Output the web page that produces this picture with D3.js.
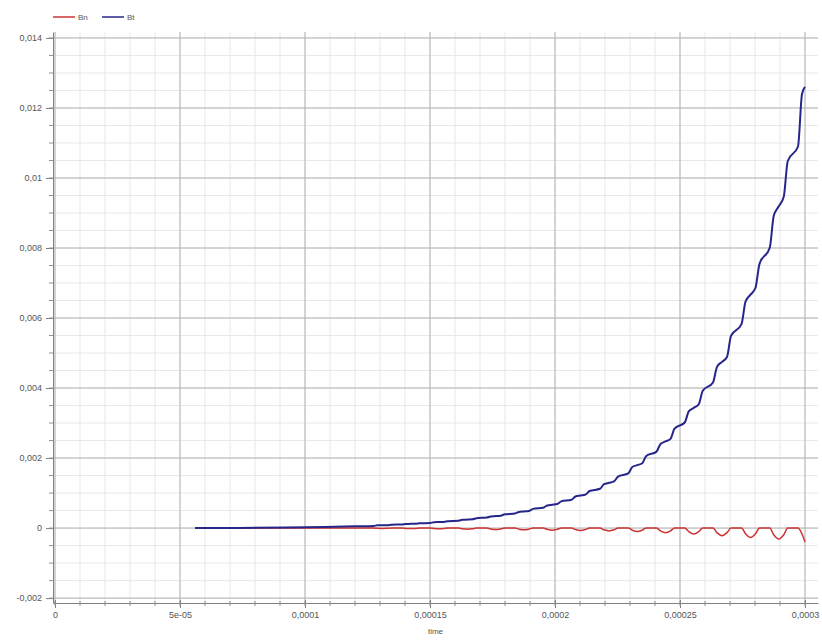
<!DOCTYPE html>
<html>
<head>
<meta charset="utf-8">
<script src="https://cdn.jsdelivr.net/npm/d3@7"></script>
<style>
    body { margin: 0; background: #ffffff; }
    text { font-family: "Liberation Sans", "DejaVu Sans", sans-serif; }
</style>
</head>
<body>
<div id="chart"></div>
<script>
// series (time in seconds)
var seriesNames = ["Bn", "Bt"];

var time = [
    0, 56e-6, 74e-6, 92e-6, 108e-6, 120e-6,
    127.4e-6, 129.0e-6, 131.0e-6, 133.0e-6, 134.6e-6,
    138.7e-6, 140.3e-6, 142.3e-6, 144.3e-6, 145.9e-6,
    150.0e-6, 151.6e-6, 153.6e-6, 155.6e-6, 157.2e-6,
    161.4e-6, 163.0e-6, 165.0e-6, 167.0e-6, 168.6e-6,
    172.7e-6, 174.3e-6, 176.3e-6, 178.3e-6, 179.9e-6,
    184.0e-6, 185.6e-6, 187.6e-6, 189.6e-6, 191.2e-6,
    195.3e-6, 196.9e-6, 198.9e-6, 200.9e-6, 202.5e-6,
    206.6e-6, 208.2e-6, 210.2e-6, 212.2e-6, 213.8e-6,
    218.0e-6, 219.6e-6, 221.6e-6, 223.6e-6, 225.2e-6,
    229.3e-6, 230.9e-6, 232.9e-6, 234.9e-6, 236.5e-6,
    240.6e-6, 242.2e-6, 244.2e-6, 246.2e-6, 247.8e-6,
    251.9e-6, 253.5e-6, 255.5e-6, 257.5e-6, 259.1e-6,
    263.2e-6, 264.8e-6, 266.8e-6, 268.8e-6, 270.4e-6,
    274.6e-6, 276.2e-6, 278.2e-6, 280.2e-6, 281.8e-6,
    285.9e-6, 287.5e-6, 289.5e-6, 291.5e-6, 293.1e-6,
    297.2e-6, 298.8e-6, 300.0e-6
];

var bn = [
    0, 0, 0, 0, 0, 0,
    0, -0.000006, -0.00001, -0.000006, 0,
    0, -0.000009, -0.000015, -0.000009, 0,
    0, -0.000012, -0.00002, -0.000012, 0,
    0, -0.000018, -0.00003, -0.000018, 0,
    0, -0.000024, -0.00004, -0.000024, 0,
    0, -0.00003, -0.00005, -0.00003, 0,
    0, -0.000036, -0.00006, -0.000036, 0,
    0, -0.000042, -0.00007, -0.000042, 0,
    0, -0.00005, -0.00008, -0.00005, 0,
    0, -0.00006, -0.0001, -0.00006, 0,
    0, -0.00008, -0.00013, -0.00008, 0,
    0, -0.0001, -0.00017, -0.0001, 0,
    0, -0.00013, -0.00022, -0.00013, 0,
    0, -0.00016, -0.00027, -0.00016, 0,
    0, -0.00019, -0.00031, -0.00019, 0,
    0, -0.00017, -0.0004
];

var bt = [
    0, 0, 0.000005, 0.000015, 0.00003, 0.00005,
    0.000062, 0.000078, 0.000081, 0.000083, 0.000098,
    0.000104, 0.000118, 0.000121, 0.000125, 0.000137,
    0.000146, 0.000167, 0.000172, 0.000177, 0.000196,
    0.000208, 0.000235, 0.000242, 0.00025, 0.000284,
    0.000302, 0.000333, 0.000343, 0.000354, 0.000392,
    0.000416, 0.000461, 0.000475, 0.000489, 0.000549,
    0.000582, 0.000647, 0.000667, 0.000686, 0.000764,
    0.000811, 0.000902, 0.000929, 0.000957, 0.001058,
    0.001123, 0.001254, 0.001293, 0.001331, 0.00147,
    0.00156, 0.001744, 0.001798, 0.001851, 0.002058,
    0.002184, 0.002401, 0.002475, 0.002548, 0.002842,
    0.003016, 0.003332, 0.003434, 0.003536, 0.00392,
    0.00416, 0.004606, 0.004747, 0.004888, 0.005488,
    0.005824, 0.006468, 0.006666, 0.006864, 0.007546,
    0.008008, 0.008918, 0.009191, 0.009464, 0.010486,
    0.0109, 0.0124, 0.0126
];

// the first point (t = 0) is hidden under the zero grid line in the picture
var firstVisible = 1;

var xTicks = [0, 5e-5, 1e-4, 1.5e-4, 2e-4, 2.5e-4, 3e-4];
var xTickLabels = ["0", "5e-05", "0,0001", "0,00015", "0,0002", "0,00025", "0,0003"];
var yTicks = [-0.002, 0, 0.002, 0.004, 0.006, 0.008, 0.01, 0.012, 0.014];
var yTickLabels = ["-0,002", "0", "0,002", "0,004", "0,006", "0,008", "0,01", "0,012", "0,014"];
var xLabel = "time";

var w = 822, h = 640;
var margin = { left: 53, right: 818, top: 32, bottom: 603 };
var colors = ["#cc3333", "#26268a"];

var svg = d3.select("#chart").append("svg").attr("width", w).attr("height", h);

var scale_x = d3.scaleLinear().domain([-0.8e-6, 305.2e-6]).range([margin.left, margin.right]);
var scale_y = d3.scaleLinear().domain([-0.00214, 0.01417]).range([margin.bottom, margin.top]);

// minor grid
var minorX = d3.range(0, 3.05e-4, 1e-5);
var minorY = d3.range(-0.002, 0.01401, 0.0005);

var grid = svg.append("g").attr("class", "grid");
grid.selectAll("line.mx").data(minorX).enter().append("line")
    .attr("x1", function (d) { return scale_x(d); })
    .attr("x2", function (d) { return scale_x(d); })
    .attr("y1", margin.top).attr("y2", margin.bottom)
    .attr("stroke", "#e8e8e8").attr("stroke-width", 1);
grid.selectAll("line.my").data(minorY).enter().append("line")
    .attr("y1", function (d) { return scale_y(d); })
    .attr("y2", function (d) { return scale_y(d); })
    .attr("x1", margin.left).attr("x2", margin.right)
    .attr("stroke", "#e8e8e8").attr("stroke-width", 1);

// major grid
grid.selectAll("line.gx").data(xTicks).enter().append("line")
    .attr("x1", function (d) { return scale_x(d); })
    .attr("x2", function (d) { return scale_x(d); })
    .attr("y1", margin.top).attr("y2", margin.bottom)
    .attr("stroke", "#b4b4b4").attr("stroke-width", 1);
grid.selectAll("line.gy").data(yTicks).enter().append("line")
    .attr("y1", function (d) { return scale_y(d); })
    .attr("y2", function (d) { return scale_y(d); })
    .attr("x1", margin.left).attr("x2", margin.right)
    .attr("stroke", "#b4b4b4").attr("stroke-width", 1);

// axes
var yAxis = d3.axisLeft(scale_y).tickValues(yTicks)
    .tickFormat(function (d, i) { return yTickLabels[i]; })
    .tickSize(7).tickSizeOuter(0).tickPadding(4);
var yBar = svg.append("g").attr("transform", "translate(" + margin.left + ",0)").call(yAxis);

var xAxis = d3.axisBottom(scale_x).tickValues(xTicks)
    .tickFormat(function (d, i) { return xTickLabels[i]; })
    .tickSize(5).tickSizeOuter(0).tickPadding(4);
var xBar = svg.append("g").attr("transform", "translate(0," + margin.bottom + ")").call(xAxis);
xBar.selectAll(".tick line").attr("y1", -3);

[xBar, yBar].forEach(function (bar) {
    bar.select(".domain").attr("stroke", "#808080");
    bar.selectAll(".tick line").attr("stroke", "#808080");
    bar.selectAll("text").attr("fill", "#555").style("font-size", "9px");
});

// minor ticks
yBar.selectAll("line.minor").data(minorY).enter().append("line")
    .attr("x1", -4).attr("x2", 0)
    .attr("y1", function (d) { return scale_y(d); })
    .attr("y2", function (d) { return scale_y(d); })
    .attr("stroke", "#909090");
xBar.selectAll("line.minor").data(minorX).enter().append("line")
    .attr("y1", -2).attr("y2", 3)
    .attr("x1", function (d) { return scale_x(d); })
    .attr("x2", function (d) { return scale_x(d); })
    .attr("stroke", "#909090");

svg.append("text").attr("x", (margin.left + margin.right) / 2).attr("y", 634)
    .attr("text-anchor", "middle").attr("fill", "#555").style("font-size", "8px")
    .text(xLabel);

// lines
var points = [bn, bt].map(function (vals) {
    return time.map(function (t, i) { return { x: t, y: vals[i] }; }).slice(firstVisible);
});

var line = d3.line()
    .x(function (d) { return scale_x(d.x); })
    .y(function (d) { return scale_y(d.y); })
    .curve(d3.curveMonotoneX);

var group = svg.append("g").attr("class", "line");
group.append("path").attr("d", line(points[0]))
    .attr("fill", "none").attr("stroke", colors[0]).attr("stroke-width", 1.5);
group.append("path").attr("d", line(points[1]))
    .attr("fill", "none").attr("stroke", colors[1]).attr("stroke-width", 2);

// legend
var legend = svg.append("g").attr("class", "legend");
var legendX = [53, 102];
seriesNames.forEach(function (name, i) {
    legend.append("line")
        .attr("x1", legendX[i]).attr("x2", legendX[i] + 22)
        .attr("y1", 17).attr("y2", 17)
        .attr("stroke", colors[i]).attr("stroke-width", 1.5);
    legend.append("text")
        .attr("x", legendX[i] + 25).attr("y", 20)
        .attr("fill", "#555").style("font-size", "8px")
        .text(name);
});
</script>
</body>
</html>
